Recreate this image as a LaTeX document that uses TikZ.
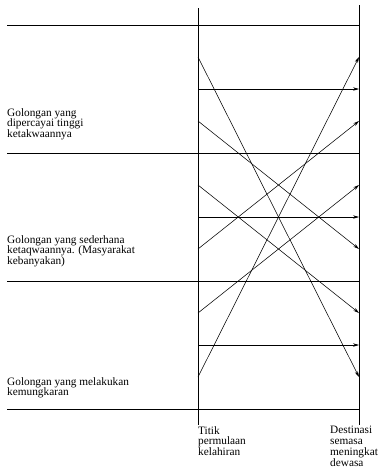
\documentclass[tikz,border=0pt]{standalone}
\usepackage{fontspec}
\setmainfont{Liberation Serif}
\usetikzlibrary{arrows.meta}

\begin{document}
\begin{tikzpicture}[x=1pt,y=-1pt,
  flow/.style={-{Stealth[length=6pt,width=3.4pt]},line width=0.55pt},
  rule/.style={line width=0.6pt},
  axis/.style={line width=0.75pt},
  lab/.style={font=\fontsize{11.3}{10.8}\selectfont,align=left,inner sep=0pt,anchor=north west}]
  \useasboundingbox (0,0) rectangle (379,472);
  % lanes on both axes
  \foreach \i/\y in {1/57,2/89,3/121,4/185,5/217,6/249,7/313,8/345,9/377} {
    \coordinate (l\i) at (198,\y);
    \coordinate (r\i) at (359,\y);
  }
  % band boundaries
  \foreach \n/\y in {a/25,b/153,c/281,d/409} {
    \coordinate (m\n) at (7,\y);
    \coordinate (e\n) at (359,\y);
    \draw[rule] (m\n) -- (e\n);
  }
  % the two axes
  \coordinate (birthtop) at (198,8);
  \coordinate (birthend) at (198,425);
  \coordinate (adulttop) at (359,5);
  \coordinate (adultend) at (359,425);
  \draw[axis] (birthtop) -- (birthend);
  \draw[axis] (adulttop) -- (adultend);
  % paths from birth to adulthood
  \draw[flow] (l1) -- (r9);
  \draw[flow] (l2) -- (r2);
  \draw[flow] (l3) -- (r6);
  \draw[flow] (l4) -- (r7);
  \draw[flow] (l5) -- (r5);
  \draw[flow] (l6) -- (r3);
  \draw[flow] (l7) -- (r4);
  \draw[flow] (l8) -- (r8);
  \draw[flow] (l9) -- (r1);
  % group labels
  \node[lab] (pious) at (7,108) {Golongan yang\\dipercayai tinggi\\ketakwaannya};
  \node[lab] (common) at (7,235) {Golongan yang sederhana\\ketaqwaannya. (Masyarakat\\kebanyakan)};
  \node[lab] (sinful) at (7,377) {Golongan yang melakukan\\kemungkaran};
  \node[lab] (birth) at (198,426) {Titik\\permulaan\\kelahiran};
  \node[lab] (adult) at (330,426) {Destinasi\\semasa\\meningkat\\dewasa};
\end{tikzpicture}
\end{document}
